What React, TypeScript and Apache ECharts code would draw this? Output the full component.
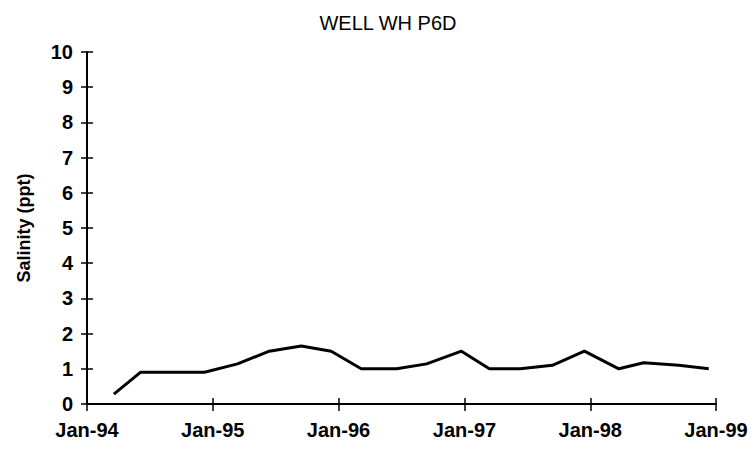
import React, { useEffect, useRef } from "react";
import * as echarts from "echarts";

const title = "WELL WH P6D";
const yAxisName = "Salinity (ppt)";
const sampleDates = [
  "1994-03-20", "1994-06-05", "1994-09-10", "1994-12-08",
  "1995-03-14", "1995-06-14", "1995-09-15", "1995-12-11",
  "1996-03-07", "1996-06-18", "1996-09-13", "1996-12-23",
  "1997-03-14", "1997-06-12", "1997-09-13", "1997-12-15",
  "1998-03-25", "1998-06-05", "1998-09-15", "1998-12-11",
];
const salinity = [
  0.28, 0.9, 0.9, 0.9,
  1.14, 1.5, 1.65, 1.5,
  1.0, 1.0, 1.14, 1.5,
  1.0, 1.0, 1.1, 1.5,
  1.0, 1.17, 1.1, 1.0,
];
const xMin = "1994-01-01";
const xMax = "1999-01-01";
const yMin = 0;
const yMax = 10;
const yInterval = 1;

const FONT = "'Liberation Sans', Arial, sans-serif";
const GRID = { left: 87, right: 38, top: 52, bottom: 46 };
const W = 754;
const H = 450;

export default function App() {
  const ref = useRef<HTMLDivElement>(null);
  useEffect(() => {
    if (!ref.current) return;
    const chart = echarts.init(ref.current, null, { renderer: "svg" });
    const fmt = (v: number) => "Jan-" + String(new Date(v).getFullYear()).slice(2);
    const gw = W - GRID.left - GRID.right;
    const gh = H - GRID.top - GRID.bottom;
    const baseX = {
      type: "time" as const,
      min: xMin,
      max: xMax,
      splitNumber: 5,
      minInterval: 365 * 24 * 3600 * 1000,
      splitLine: { show: false },
    };
    const baseY = {
      type: "value" as const,
      min: yMin,
      max: yMax,
      interval: yInterval,
      splitLine: { show: false },
    };
    chart.setOption({
      animation: false,
      backgroundColor: "#fff",
      title: {
        text: title,
        left: 383,
        top: 8,
        textAlign: "center",
        textStyle: { fontFamily: FONT, fontSize: 20, fontWeight: "normal", color: "#000" },
      },
      grid: { ...GRID, containLabel: false },
      xAxis: [
        {
          ...baseX,
          position: "bottom",
          axisLine: { show: true, onZero: false, lineStyle: { color: "#000", width: 2 } },
          axisTick: { show: true, length: 7, lineStyle: { color: "#000", width: 1.5 } },
          axisLabel: {
            formatter: fmt,
            fontFamily: FONT,
            fontSize: 20,
            fontWeight: "bold",
            color: "#000",
            margin: 16,
            showMinLabel: true,
            showMaxLabel: true,
          },
        },
        {
          ...baseX,
          position: "top",
          offset: -gh,
          axisLine: { show: false, onZero: false },
          axisTick: { show: true, inside: false, length: 6, lineStyle: { color: "#000", width: 1.5 } },
          axisLabel: { show: false },
        },
      ],
      yAxis: [
        {
          ...baseY,
          position: "left",
          name: yAxisName,
          nameLocation: "middle",
          nameGap: 54,
          nameTextStyle: { fontFamily: FONT, fontSize: 18, fontWeight: "bold", color: "#000" },
          axisLine: { show: true, onZero: false, lineStyle: { color: "#000", width: 2 } },
          axisTick: { show: true, length: 6, lineStyle: { color: "#000", width: 1.5 } },
          axisLabel: {
            fontFamily: FONT,
            fontSize: 20,
            fontWeight: "bold",
            color: "#000",
            margin: 14,
          },
        },
        {
          ...baseY,
          position: "right",
          offset: -gw,
          axisLine: { show: false, onZero: false },
          axisTick: { show: true, inside: false, length: 6, lineStyle: { color: "#000", width: 1.5 } },
          axisLabel: { show: false },
        },
      ],
      series: [
        {
          type: "line",
          data: sampleDates.map((d, i) => [d, salinity[i]]),
          showSymbol: false,
          symbol: "none",
          lineStyle: { color: "#000", width: 3 },
          xAxisIndex: 0,
          yAxisIndex: 0,
        },
      ],
    });
    return () => chart.dispose();
  }, []);
  return (
    <div style={{ position: "absolute", left: 0, top: 0 }}>
      <div ref={ref} style={{ width: W, height: H }} />
    </div>
  );
}
